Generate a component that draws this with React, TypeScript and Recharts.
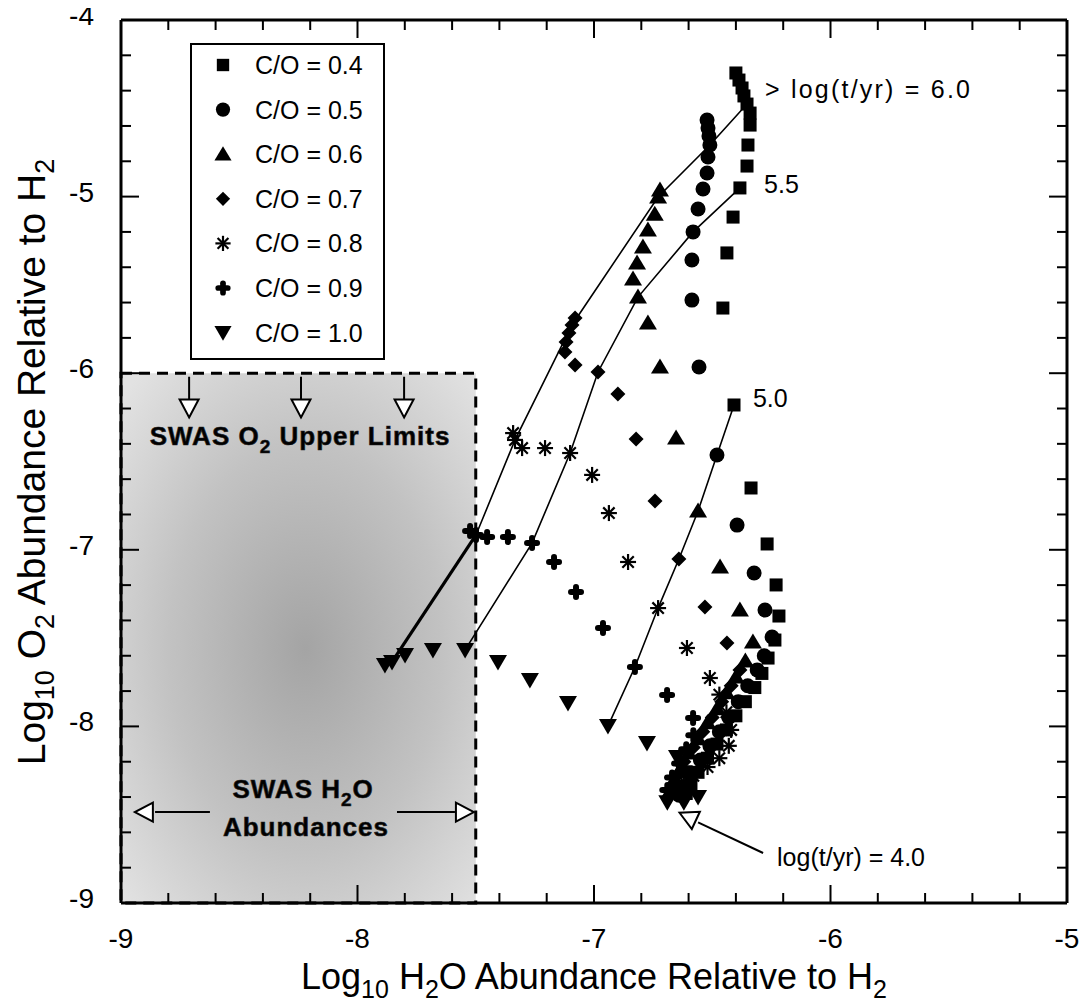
import React from "react";
import {
  ScatterChart,
  Scatter,
  XAxis,
  YAxis,
  ReferenceArea,
  ReferenceLine,
  ReferenceDot,
  Legend,
  Label,
} from "recharts";

type Pt = [number, number];

const FONT = '"Liberation Sans", Arial, Helvetica, sans-serif';

// axis ticks (minor every 0.2, labels on integers)
const xTicks = [-9, -8.8, -8.6, -8.4, -8.2, -8, -7.8, -7.6, -7.4, -7.2, -7, -6.8, -6.6, -6.4, -6.2, -6, -5.8, -5.6, -5.4, -5.2, -5];
const yTicks = [-9, -8.8, -8.6, -8.4, -8.2, -8, -7.8, -7.6, -7.4, -7.2, -7, -6.8, -6.6, -6.4, -6.2, -6, -5.8, -5.6, -5.4, -5.2, -5, -4.8, -4.6, -4.4, -4.2, -4];

// [log H2O, log O2] per C/O ratio, late times first
const co04: Pt[] = [
  [-6.4, -4.3], [-6.387, -4.34], [-6.374, -4.385], [-6.366, -4.43], [-6.353, -4.476], [-6.34, -4.527],
  [-6.34, -4.595], [-6.349, -4.708], [-6.353, -4.827], [-6.383, -4.951], [-6.412, -5.116], [-6.438, -5.319],
  [-6.455, -5.631], [-6.408, -6.18], [-6.336, -6.65], [-6.268, -6.967], [-6.23, -7.199], [-6.218, -7.375],
  [-6.235, -7.511], [-6.264, -7.613], [-6.29, -7.7], [-6.32, -7.78], [-6.36, -7.86], [-6.4, -7.94],
  [-6.44, -8.02], [-6.48, -8.1], [-6.52, -8.18], [-6.56, -8.26], [-6.59, -8.33], [-6.61, -8.38],
];
const co05: Pt[] = [
  [-6.522, -4.566], [-6.518, -4.612], [-6.514, -4.657], [-6.51, -4.708], [-6.518, -4.776], [-6.522, -4.866],
  [-6.539, -4.957], [-6.56, -5.07], [-6.581, -5.2], [-6.586, -5.359], [-6.586, -5.586], [-6.556, -5.965],
  [-6.48, -6.463], [-6.395, -6.86], [-6.323, -7.131], [-6.277, -7.341], [-6.247, -7.494], [-6.28, -7.6],
  [-6.31, -7.68], [-6.35, -7.77], [-6.39, -7.86], [-6.43, -7.95], [-6.47, -8.03], [-6.51, -8.11],
  [-6.55, -8.19], [-6.59, -8.27], [-6.62, -8.34], [-6.64, -8.39],
];
const co06: Pt[] = [
  [-6.721, -4.963], [-6.729, -5.002], [-6.743, -5.1], [-6.772, -5.189], [-6.793, -5.285], [-6.818, -5.376],
  [-6.835, -5.467], [-6.814, -5.569], [-6.772, -5.716], [-6.721, -5.965], [-6.653, -6.367], [-6.56, -6.78],
  [-6.467, -7.097], [-6.383, -7.341], [-6.328, -7.522], [-6.36, -7.63], [-6.4, -7.72], [-6.44, -7.81],
  [-6.48, -7.9], [-6.52, -7.98], [-6.56, -8.07], [-6.6, -8.15], [-6.63, -8.23], [-6.66, -8.3], [-6.68, -8.37],
];
const co07: Pt[] = [
  [-7.08, -5.687], [-7.093, -5.727], [-7.106, -5.772], [-7.118, -5.823], [-7.123, -5.88], [-7.08, -5.954],
  [-6.983, -5.993], [-6.899, -6.118], [-6.822, -6.373], [-6.742, -6.724], [-6.641, -7.052], [-6.531, -7.324],
  [-6.438, -7.528], [-6.383, -7.681], [-6.42, -7.77], [-6.46, -7.86], [-6.5, -7.95], [-6.54, -8.03],
  [-6.58, -8.12], [-6.62, -8.2], [-6.65, -8.28], [-6.67, -8.35],
];
const co08: Pt[] = [
  [-7.342, -6.339], [-7.334, -6.378], [-7.304, -6.424], [-7.207, -6.424], [-7.101, -6.452], [-7.008, -6.576],
  [-6.937, -6.792], [-6.856, -7.069], [-6.729, -7.33], [-6.607, -7.556], [-6.51, -7.726], [-6.47, -7.82],
  [-6.44, -7.92], [-6.42, -8.02], [-6.43, -8.11], [-6.47, -8.18], [-6.52, -8.23], [-6.58, -8.28], [-6.63, -8.33],
];
const co09: Pt[] = [
  [-7.524, -6.894], [-7.499, -6.916], [-7.452, -6.928], [-7.364, -6.928], [-7.262, -6.962], [-7.169, -7.069],
  [-7.076, -7.239], [-6.962, -7.443], [-6.827, -7.664], [-6.691, -7.822], [-6.581, -7.952], [-6.58, -8.05],
  [-6.61, -8.13], [-6.64, -8.21], [-6.67, -8.29], [-6.69, -8.36],
];
const co10: Pt[] = [
  [-7.884, -7.652], [-7.854, -7.635], [-7.799, -7.596], [-7.681, -7.567], [-7.545, -7.567], [-7.406, -7.635],
  [-7.271, -7.737], [-7.11, -7.867], [-6.941, -7.998], [-6.776, -8.094], [-6.649, -8.173], [-6.62, -8.26],
  [-6.64, -8.34], [-6.69, -8.43], [-6.62, -8.43], [-6.56, -8.4],
];

// isochrones through the tracks
const iso60: Pt[] = [[-6.353, -4.476], [-6.51, -4.708], [-6.729, -5.002], [-7.093, -5.727], [-7.334, -6.378], [-7.499, -6.916], [-7.854, -7.635]];
const iso60Tail: Pt[] = [[-7.499, -6.916], [-7.854, -7.635]];
const iso55: Pt[] = [[-6.383, -4.951], [-6.581, -5.2], [-6.814, -5.569], [-6.983, -5.993], [-7.101, -6.452], [-7.262, -6.962], [-7.545, -7.567]];
const iso50: Pt[] = [[-6.408, -6.18], [-6.48, -6.463], [-6.56, -6.78], [-6.641, -7.052], [-6.729, -7.33], [-6.827, -7.664], [-6.941, -7.998]];

const seriesNames = ["C/O = 0.4", "C/O = 0.5", "C/O = 0.6", "C/O = 0.7", "C/O = 0.8", "C/O = 0.9", "C/O = 1.0"];
const seriesKinds = ["square", "circle", "triangle", "diamond", "star", "cross", "down"];
const seriesData = [co04, co05, co06, co07, co08, co09, co10];

// SWAS observed ranges
const swasH2O = [-9, -7.5];
const swasO2 = [-9, -6];
const o2LimitX = [-8.712, -8.239, -7.803];

const toObj = (a: Pt[]) => a.map(([x, y]) => ({ x, y }));

function Marker({ kind, cx, cy, s = 1 }: { kind: string; cx: number; cy: number; s?: number }) {
  if (cx == null || cy == null) return null;
  const k = (v: number) => v * s;
  switch (kind) {
    case "square":
      return <rect x={cx - k(6.5)} y={cy - k(6.5)} width={k(13)} height={k(13)} fill="#000" />;
    case "circle":
      return <circle cx={cx} cy={cy} r={k(7.5)} fill="#000" />;
    case "triangle":
      return <polygon points={`${cx},${cy - k(8.5)} ${cx + k(9)},${cy + k(6.5)} ${cx - k(9)},${cy + k(6.5)}`} fill="#000" />;
    case "diamond":
      return <polygon points={`${cx},${cy - k(7.5)} ${cx + k(7.5)},${cy} ${cx},${cy + k(7.5)} ${cx - k(7.5)},${cy}`} fill="#000" />;
    case "star":
      return (
        <g stroke="#000" strokeWidth={2.2}>
          <line x1={cx - k(8)} y1={cy} x2={cx + k(8)} y2={cy} />
          <line x1={cx} y1={cy - k(8)} x2={cx} y2={cy + k(8)} />
          <line x1={cx - k(5.7)} y1={cy - k(5.7)} x2={cx + k(5.7)} y2={cy + k(5.7)} />
          <line x1={cx - k(5.7)} y1={cy + k(5.7)} x2={cx + k(5.7)} y2={cy - k(5.7)} />
        </g>
      );
    case "cross":
      return (
        <g stroke="#000" strokeWidth={k(6)} strokeLinecap="round">
          <line x1={cx - k(5)} y1={cy} x2={cx + k(5)} y2={cy} />
          <line x1={cx} y1={cy - k(5)} x2={cx} y2={cy + k(5)} />
        </g>
      );
    default:
      return <polygon points={`${cx - k(9)},${cy - k(7)} ${cx + k(9)},${cy - k(7)} ${cx},${cy + k(8.5)}`} fill="#000" />;
  }
}

const isMajor = (v: number) => Math.abs(v - Math.round(v)) < 1e-6;

const BottomTick = (p: any) => {
  const v = p.payload.value;
  const m = isMajor(v);
  return (
    <g>
      <line x1={p.x} x2={p.x} y1={p.y} y2={p.y - (m ? 18 : 10)} stroke="#000" strokeWidth={2} />
      {m && (
        <text x={p.x} y={p.y + 45} textAnchor="middle" fontSize={28} fontFamily={FONT} fill="#000">
          {String(Math.round(v))}
        </text>
      )}
    </g>
  );
};
const TopTick = (p: any) => {
  const m = isMajor(p.payload.value);
  return <line x1={p.x} x2={p.x} y1={p.y} y2={p.y + (m ? 18 : 10)} stroke="#000" strokeWidth={2} />;
};
const LeftTick = (p: any) => {
  const v = p.payload.value;
  const m = isMajor(v);
  return (
    <g>
      <line x1={p.x} x2={p.x + (m ? 18 : 10)} y1={p.y} y2={p.y} stroke="#000" strokeWidth={2} />
      {m && (
        <text x={p.x - 27} y={p.y + 5} textAnchor="end" fontSize={28} fontFamily={FONT} fill="#000">
          {String(Math.round(v))}
        </text>
      )}
    </g>
  );
};
const RightTick = (p: any) => {
  const m = isMajor(p.payload.value);
  return <line x1={p.x} x2={p.x - (m ? 18 : 10)} y1={p.y} y2={p.y} stroke="#000" strokeWidth={2} />;
};

const XTitle = (props: any) => {
  const { x, y, width } = props.viewBox;
  return (
    <text x={x + width / 2} y={y + 86} textAnchor="middle" fontSize={36} fontFamily={FONT} fill="#000">
      Log<tspan fontSize={25} dy={9}>10</tspan>
      <tspan dy={-9}> H</tspan>
      <tspan fontSize={25} dy={9}>2</tspan>
      <tspan dy={-9}>O Abundance Relative to H</tspan>
      <tspan fontSize={25} dy={9}>2</tspan>
    </text>
  );
};
const YTitle = () => {
  const cx = 37;
  const cy = 462;
  return (
    <text x={cx} y={cy} transform={`rotate(-90 ${cx} ${cy})`} textAnchor="middle" fontSize={39} fontFamily={FONT} fill="#000">
      Log<tspan fontSize={27} dy={9}>10</tspan>
      <tspan dy={-9}> O</tspan>
      <tspan fontSize={27} dy={9}>2</tspan>
      <tspan dy={-9}> Abundance Relative to H</tspan>
      <tspan fontSize={27} dy={9}>2</tspan>
    </text>
  );
};

const Head = (angle: number) => (p: any) =>
  (
    <polygon
      points="10,0 -8,-9.5 -8,9.5"
      transform={`translate(${p.cx} ${p.cy}) rotate(${angle})`}
      fill="#fff"
      stroke="#000"
      strokeWidth={2}
    />
  );

const Txt = (content: React.ReactNode, anchor: "start" | "middle" = "start", bold = false, size = 25, len?: number) => (p: any) =>
  (
    <text
      x={p.cx}
      y={p.cy}
      textAnchor={anchor}
      fontSize={size}
      fontWeight={bold ? 900 : 400}
      letterSpacing={bold ? 1 : 0}
      fontFamily={FONT}
      fill="#000"
      stroke={bold ? "#222" : "none"}
      strokeWidth={bold ? 0.6 : 0}
      textLength={len}
      lengthAdjust={len ? "spacing" : undefined}
    >
      {content}
    </text>
  );

const LegendBox = () => (
  <div style={{ width: 195, height: 317, border: "2.5px solid #000", background: "#fff", boxSizing: "border-box" }}>
    <svg width={190} height={312}>
      {seriesNames.map((n, i) => (
        <g key={n}>
          <Marker kind={seriesKinds[i]} cx={31} cy={20 + i * 44.6} s={0.95} />
          <text x={63} y={20 + i * 44.6 + 9} fontSize={25} fontFamily={FONT} fill="#000">
            {n}
          </text>
        </g>
      ))}
    </svg>
  </div>
);

const stroke = { stroke: "#000", strokeWidth: 1.6 };

export default function App() {
  return (
    <div style={{ marginTop: -8 }}>
      <ScatterChart width={1071} height={1005} margin={{ top: 20, right: 12, left: 53, bottom: 42 }}>
        <defs>
          <radialGradient id="swasFill" cx="52%" cy="52%" r="70%">
            <stop offset="0%" stopColor="#a4a4a4" />
            <stop offset="55%" stopColor="#c2c2c2" />
            <stop offset="100%" stopColor="#e2e2e2" />
          </radialGradient>
        </defs>
        <XAxis
          type="number"
          dataKey="x"
          domain={[-9, -5]}
          ticks={xTicks}
          interval={0}
          tickSize={0}
          tickMargin={0}
          tick={BottomTick}
          axisLine={{ stroke: "#000", strokeWidth: 3 }}
          height={60}
          allowDataOverflow
        >
          <Label content={XTitle} />
        </XAxis>
        <XAxis
          xAxisId="top"
          orientation="top"
          mirror
          type="number"
          dataKey="x"
          domain={[-9, -5]}
          ticks={xTicks}
          interval={0}
          tickSize={0}
          tickMargin={0}
          tick={TopTick}
          axisLine={{ stroke: "#000", strokeWidth: 3 }}
          allowDataOverflow
        />
        <YAxis
          type="number"
          dataKey="y"
          domain={[-9, -4]}
          ticks={yTicks}
          interval={0}
          tickSize={0}
          tickMargin={0}
          tick={LeftTick}
          axisLine={{ stroke: "#000", strokeWidth: 3 }}
          width={60}
          allowDataOverflow
        >
          <Label content={YTitle} />
        </YAxis>
        <YAxis
          yAxisId="right"
          orientation="right"
          mirror
          type="number"
          dataKey="y"
          domain={[-9, -4]}
          ticks={yTicks}
          interval={0}
          tickSize={0}
          tickMargin={0}
          tick={RightTick}
          axisLine={{ stroke: "#000", strokeWidth: 3 }}
          allowDataOverflow
        />

        <ReferenceArea
          x1={swasH2O[0]}
          x2={swasH2O[1]}
          y1={swasO2[0]}
          y2={swasO2[1]}
          fill="url(#swasFill)"
          fillOpacity={1}
          stroke="#000"
          strokeWidth={3}
          strokeDasharray="11 7"
        />

        {o2LimitX.map((x) => (
          <ReferenceLine key={`s${x}`} segment={[{ x, y: -6.02 }, { x, y: -6.15 }]} stroke="#000" strokeWidth={2} />
        ))}
        {o2LimitX.map((x) => (
          <ReferenceDot key={`h${x}`} x={x} y={-6.194} r={1} shape={Head(90)} />
        ))}
        <ReferenceDot x={-8.243} y={-6.407} r={1} shape={Txt(<>SWAS O<tspan fontSize={19} dy={8}>2</tspan><tspan dy={-8}> Upper Limits</tspan></>, "middle", true, 26)} />
        <ReferenceDot x={-8.23} y={-8.405} r={1} shape={Txt(<>SWAS H<tspan fontSize={19} dy={8}>2</tspan><tspan dy={-8}>O</tspan></>, "middle", true, 26)} />
        <ReferenceDot x={-8.218} y={-8.621} r={1} shape={Txt("Abundances", "middle", true, 26)} />
        <ReferenceLine segment={[{ x: -8.856, y: -8.485 }, { x: -8.624, y: -8.485 }]} stroke="#000" strokeWidth={2} />
        <ReferenceLine segment={[{ x: -7.833, y: -8.485 }, { x: -7.588, y: -8.485 }]} stroke="#000" strokeWidth={2} />
        <ReferenceDot x={-8.899} y={-8.485} r={1} shape={Head(180)} />
        <ReferenceDot x={-7.55} y={-8.485} r={1} shape={Head(0)} />

        <Scatter data={toObj(iso60)} line={stroke} shape={() => <g />} legendType="none" isAnimationActive={false} />
        <Scatter data={toObj(iso60Tail)} line={{ stroke: "#000", strokeWidth: 3.2 }} shape={() => <g />} legendType="none" isAnimationActive={false} />
        <Scatter data={toObj(iso55)} line={stroke} shape={() => <g />} legendType="none" isAnimationActive={false} />
        <Scatter data={toObj(iso50)} line={stroke} shape={() => <g />} legendType="none" isAnimationActive={false} />

        {seriesData.map((d, i) => (
          <Scatter
            key={seriesNames[i]}
            name={seriesNames[i]}
            data={toObj(d)}
            shape={(p: any) => <Marker kind={seriesKinds[i]} cx={p.cx} cy={p.cy} />}
            isAnimationActive={false}
          />
        ))}

        <ReferenceLine segment={[{ x: -6.285, y: -8.717 }, { x: -6.56, y: -8.543 }]} stroke="#000" strokeWidth={2} />
        <ReferenceDot x={-6.6} y={-8.513} r={1} shape={Head(205)} />
        <ReferenceDot x={-6.226} y={-8.79} r={1} shape={Txt("log(t/yr) = 4.0")} />
        <ReferenceDot x={-6.277} y={-4.442} r={1} shape={Txt("> log(t/yr) = 6.0", "start", false, 25, 205)} />
        <ReferenceDot x={-6.281} y={-4.98} r={1} shape={Txt("5.5")} />
        <ReferenceDot x={-6.328} y={-6.191} r={1} shape={Txt("5.0")} />

        <Legend
          layout="vertical"
          align="center"
          verticalAlign="middle"
          content={() => <LegendBox />}
          wrapperStyle={{ position: "absolute", left: 182, top: 43, width: 195, height: 317 }}
        />
      </ScatterChart>
    </div>
  );
}
